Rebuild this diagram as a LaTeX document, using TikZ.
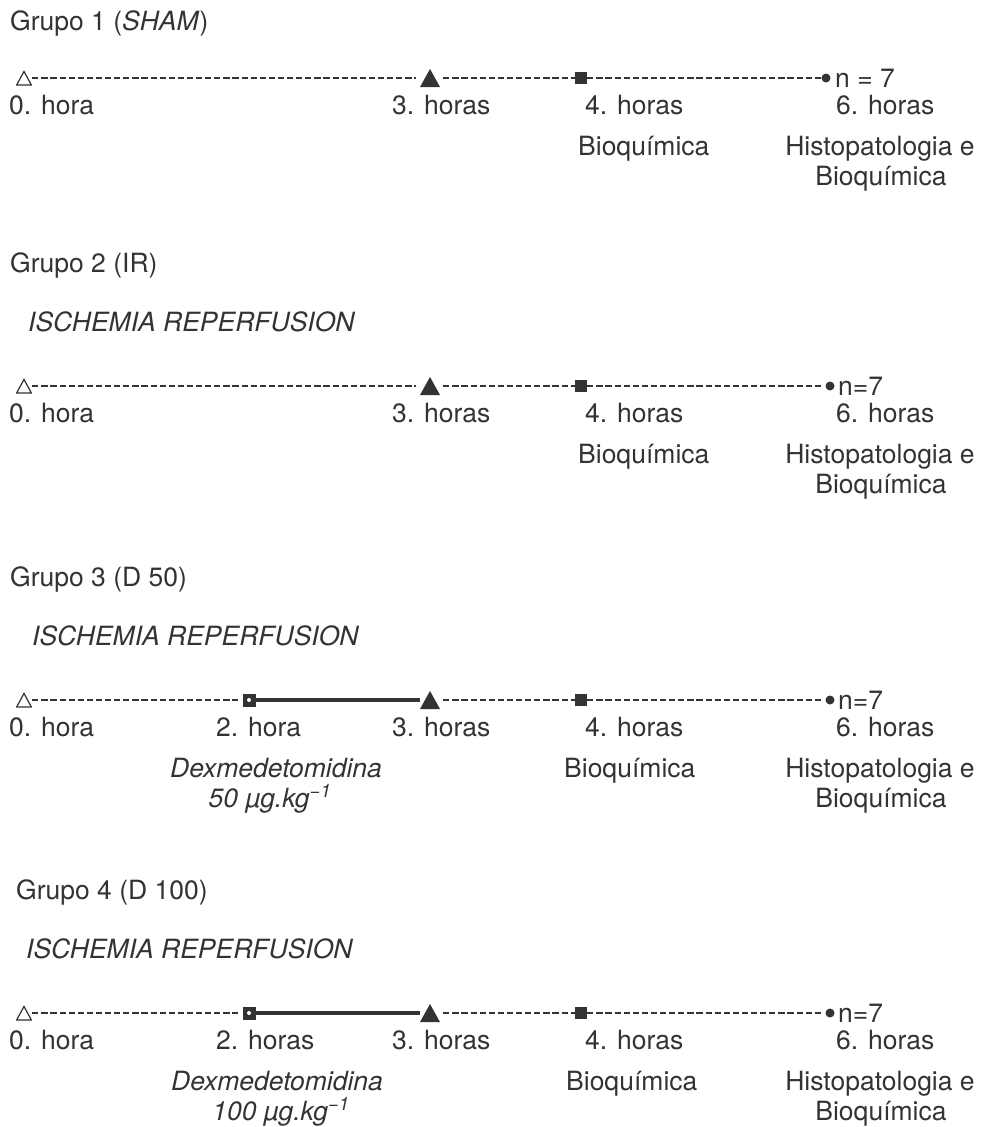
\documentclass[tikz,border=0pt]{standalone}
\usepackage{fontspec}
\setmainfont{TeX Gyre Heros}
\definecolor{ink}{HTML}{333333}
\tikzset{every node/.style={inner sep=0pt,text=ink,font=\fontsize{26.5}{30}\selectfont},
         txt/.style={anchor=base west},
         ctr/.style={anchor=base},
         hollow/.style={minimum width=16pt,minimum height=15pt,
           path picture={\draw[ink,line width=1.2pt]([xshift=.7pt,yshift=.6pt]path picture bounding box.south west)--([xshift=-.7pt,yshift=.6pt]path picture bounding box.south east)--([yshift=-.9pt]path picture bounding box.north)--cycle;}},
         solidtri/.style={minimum width=20pt,minimum height=18pt,
           path picture={\fill[ink](path picture bounding box.south west)--(path picture bounding box.south east)--(path picture bounding box.north)--cycle;}},
         bq/.style={fill=ink,minimum size=12pt},
         fim/.style={circle,fill=ink,minimum size=9pt},
         dose/.style={fill=ink,minimum size=13pt,
           path picture={\fill[white](path picture bounding box.center)circle(2pt);}},
         dotsline/.style={draw=ink,line width=1.8pt,dash pattern=on 6.2pt off 2.9pt},
         infusion/.style={draw=ink,line width=3.4pt},
        }

\begin{document}
\begin{tikzpicture}[x=1pt,y=-1pt]
        \useasboundingbox(0,0)rectangle(980,1127);

        \node[txt](g1)at(10,30){Grupo 1 (\textit{SHAM})};
        \node[hollow](s1)at(24,78){};
        \node[solidtri](t1)at(430,78){};
        \node[bq](b1)at(581,78){};
        \node[fim](f1)at(826,78){};
        \node[txt](n1)at(835,87){n = 7};
        \node[txt](h01)at(9,114){0. hora};
        \node[txt](h31)at(392,114){3. horas};
        \node[txt](h41)at(585,114){4. horas};
        \node[txt](h61)at(836,114){6. horas};
        \node[txt](q1)at(578,155){Bioquímica};
        \node[ctr](x1)at(880,155){Histopatologia e};
        \node[ctr](y1)at(881,185){Bioquímica};
        \draw[dotsline,shorten >=4pt](s1.east)--(t1.west);
        \draw[dotsline,shorten <=3pt](t1.east)--(b1.west);
        \draw[dotsline](b1.east)--(f1.west);

        \node[txt](g2)at(10,272){Grupo 2 (IR)};
        \node[txt](r2)at(28,331){\textit{ISCHEMIA REPERFUSION}};
        \node[hollow](s2)at(24,386){};
        \node[solidtri](t2)at(430,386){};
        \node[bq](b2)at(581,386){};
        \node[fim](f2)at(830,386){};
        \node[txt](n2)at(838,395){n=7};
        \node[txt](h02)at(9,422){0. hora};
        \node[txt](h32)at(392,422){3. horas};
        \node[txt](h42)at(585,422){4. horas};
        \node[txt](h62)at(836,422){6. horas};
        \node[txt](q2)at(578,463){Bioquímica};
        \node[ctr](x2)at(880,463){Histopatologia e};
        \node[ctr](y2)at(881,493){Bioquímica};
        \draw[dotsline,shorten >=4pt](s2.east)--(t2.west);
        \draw[dotsline,shorten <=3pt](t2.east)--(b2.west);
        \draw[dotsline,shorten >=4pt](b2.east)--(f2.west);

        \node[txt](g3)at(10,586){Grupo 3 (D 50)};
        \node[txt](r3)at(32,645){\textit{ISCHEMIA REPERFUSION}};
        \node[hollow](s3)at(24,700){};
        \node[dose](d3)at(249,700){};
        \node[solidtri](t3)at(430,700){};
        \node[bq](b3)at(581,700){};
        \node[fim](f3)at(830,700){};
        \node[txt](n3)at(838,709){n=7};
        \node[txt](h03)at(9,736){0. hora};
        \node[txt](h23)at(216,736){2. hora};
        \node[txt](h33)at(392,736){3. horas};
        \node[txt](h43)at(585,736){4. horas};
        \node[txt](h63)at(836,736){6. horas};
        \node[ctr](m3)at(276,777){\textit{Dexmedetomidina}};
        \node[ctr](u3)at(270,807){\textit{50 µg.kg\textsuperscript{−1}}};
        \node[txt](q3)at(564,777){Bioquímica};
        \node[ctr](x3)at(880,777){Histopatologia e};
        \node[ctr](y3)at(881,807){Bioquímica};
        \draw[dotsline,shorten >=4pt](s3.east)--(d3.west);
        \draw[infusion](d3.east)--(t3.west);
        \draw[dotsline,shorten <=3pt](t3.east)--(b3.west);
        \draw[dotsline,shorten >=4pt](b3.east)--(f3.west);

        \node[txt](g4)at(16,899){Grupo 4 (D 100)};
        \node[txt](r4)at(26,958){\textit{ISCHEMIA REPERFUSION}};
        \node[hollow](s4)at(24,1013){};
        \node[dose](d4)at(249,1013){};
        \node[solidtri](t4)at(430,1013){};
        \node[bq](b4)at(581,1013){};
        \node[fim](f4)at(830,1013){};
        \node[txt](n4)at(838,1022){n=7};
        \node[txt](h04)at(9,1049){0. hora};
        \node[txt](h24)at(216,1049){2. horas};
        \node[txt](h34)at(392,1049){3. horas};
        \node[txt](h44)at(585,1049){4. horas};
        \node[txt](h64)at(836,1049){6. horas};
        \node[ctr](m4)at(277,1090){\textit{Dexmedetomidina}};
        \node[ctr](u4)at(281,1120){\textit{100 µg.kg\textsuperscript{−1}}};
        \node[txt](q4)at(566,1090){Bioquímica};
        \node[ctr](x4)at(880,1090){Histopatologia e};
        \node[ctr](y4)at(881,1120){Bioquímica};
        \draw[dotsline,shorten >=4pt](s4.east)--(d4.west);
        \draw[infusion](d4.east)--(t4.west);
        \draw[dotsline,shorten <=3pt](t4.east)--(b4.west);
        \draw[dotsline,shorten >=4pt](b4.east)--(f4.west);
\end{tikzpicture}
\end{document}
